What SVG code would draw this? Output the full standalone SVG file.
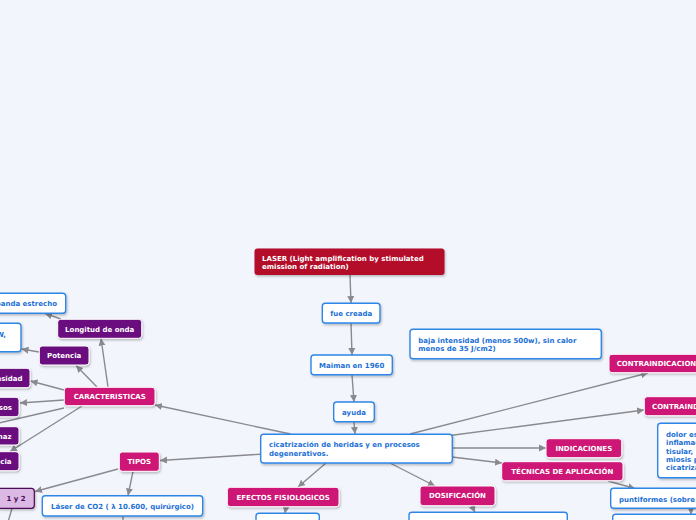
<svg xmlns="http://www.w3.org/2000/svg" width="696" height="520" viewBox="0 0 696 520">
<style>
text{font-family:"DejaVu Sans",Verdana,sans-serif;font-weight:bold;font-size:7px}
.w{fill:#fff}
.b{fill:#1b6fd6}
.d{fill:#4b0b57}
.mid{text-anchor:middle}
.end{text-anchor:end}
.red{fill:#b30b2c}
.mag{fill:#cd1676;stroke:#fff;stroke-width:1}
.pur{fill:#6a0a7e;stroke:#fff;stroke-width:1}
.box{fill:#fff;stroke:#2e86e6;stroke-width:1.4}
.lp{fill:#dcb9e4;stroke:#4b0b57;stroke-width:1.2}
.c line{stroke:#8a8a8e;stroke-width:1.4;fill:none}
.a{marker-end:url(#ah)}
</style>
<defs>
<marker id="ah" markerUnits="userSpaceOnUse" markerWidth="8" markerHeight="8" refX="7" refY="4" orient="auto">
<path d="M0,0.5 L7,4 L0,7.5 Z" fill="#8a8a8e"/>
</marker>
<filter id="sh" x="-10%" y="-20%" width="130%" height="160%">
<feDropShadow dx="1" dy="1.5" stdDeviation="0.8" flood-color="#000" flood-opacity="0.25"/>
</filter>
</defs>
<rect x="0" y="0" width="696" height="520" fill="#f3f5fd"/>
<g class="c">
<line class="a" x1="350" y1="275" x2="351" y2="303"/>
<line class="a" x1="351" y1="323" x2="352" y2="355"/>
<line class="a" x1="352" y1="375" x2="354" y2="402"/>
<line class="a" x1="354" y1="422" x2="355" y2="434"/>
<line class="a" x1="410" y1="434" x2="648" y2="373"/>
<line class="a" x1="452" y1="435.3" x2="644" y2="410"/>
<line class="a" x1="452" y1="448" x2="546" y2="448"/>
<line class="a" x1="452" y1="457" x2="502" y2="463"/>
<line class="a" x1="608" y1="481" x2="635" y2="488.5"/>
<line class="a" x1="691" y1="508" x2="691" y2="514.5"/>
<line class="a" x1="390" y1="463" x2="435" y2="486"/>
<line class="a" x1="472" y1="506" x2="475" y2="512.5"/>
<line class="a" x1="326" y1="463" x2="298" y2="487"/>
<line class="a" x1="286" y1="507" x2="285" y2="513.5"/>
<line class="a" x1="260" y1="454.2" x2="160" y2="460.5"/>
<line class="a" x1="118" y1="469" x2="35" y2="491.5"/>
<line class="a" x1="133" y1="471.5" x2="128" y2="495.5"/>
<line x1="12" y1="508.5" x2="8" y2="522"/>
<line x1="123" y1="516" x2="123" y2="522"/>
<line class="a" x1="290.6" y1="434" x2="155" y2="405"/>
<line class="a" x1="108" y1="387" x2="101" y2="338.5"/>
<line class="a" x1="61" y1="319" x2="45" y2="313.5"/>
<line class="a" x1="97" y1="387" x2="76" y2="365.5"/>
<line class="a" x1="39" y1="352" x2="21.5" y2="349"/>
<line class="a" x1="64" y1="390" x2="30.5" y2="381"/>
<line class="a" x1="64" y1="400" x2="20" y2="403"/>
<line x1="64" y1="408" x2="-5" y2="424"/>
<line class="a" x1="82" y1="406" x2="10" y2="451.5"/>
</g>
<g id="laser"><rect class="red" x="254.5" y="248.5" width="190" height="26.5" rx="3" filter="url(#sh)"/>
<text class="w" x="262" y="261">LASER (Light amplification by stimulated</text>
<text class="w" x="262" y="269">emission of radiation)</text></g>
<g id="fue"><rect class="box" x="322.3" y="303.3" width="57.7" height="19.7" rx="3" filter="url(#sh)"/>
<text class="b mid" x="351.2" y="315.8">fue creada</text></g>
<g id="maiman"><rect class="box" x="311" y="355" width="81.3" height="19.7" rx="3" filter="url(#sh)"/>
<text class="b mid" x="351.7" y="367.5">Maiman en 1960</text></g>
<g id="ayuda"><rect class="box" x="333.7" y="402" width="40.6" height="19.7" rx="3" filter="url(#sh)"/>
<text class="b mid" x="354" y="414.5">ayuda</text></g>
<g id="central"><rect class="box" x="260.7" y="434.3" width="191.6" height="28.7" rx="3" filter="url(#sh)"/>
<text class="b" x="269" y="447.2">cicatrización de heridas y en procesos</text>
<text class="b" x="269" y="456.2">degenerativos.</text></g>
<g id="baja"><rect class="box" x="410" y="329.3" width="191.3" height="29.4" rx="3" filter="url(#sh)"/>
<text class="b" x="418.3" y="343.2">baja intensidad (menos 500w), sin calor</text>
<text class="b" x="418.3" y="351.2">menos de 35 J/cm2)</text></g>
<g id="contra1"><rect class="mag" x="609" y="354.3" width="100" height="18.4" rx="3" filter="url(#sh)"/>
<text class="w" x="616.7" y="366">CONTRAINDICACIONES</text></g>
<g id="contra2"><rect class="mag" x="644.3" y="396.7" width="100" height="19" rx="3" filter="url(#sh)"/>
<text class="w" x="652" y="408.7">CONTRAINDICACIONES</text></g>
<g id="indicaciones"><rect class="mag" x="546" y="438.7" width="75.7" height="19" rx="3" filter="url(#sh)"/>
<text class="w mid" x="583.8" y="450.7">INDICACIONES</text></g>
<g id="dolor"><rect class="box" x="657.7" y="423.3" width="60" height="54.4" rx="3" filter="url(#sh)"/>
<text class="b" x="666" y="437">dolor espasmos,</text>
<text class="b" x="666" y="445.3">inflamación,</text>
<text class="b" x="666" y="453.6">tisular,</text>
<text class="b" x="666" y="461.9">miosis por</text>
<text class="b" x="666" y="470.2">cicatrización</text></g>
<g id="tecnicas"><rect class="mag" x="501.7" y="461.7" width="121.3" height="19" rx="3" filter="url(#sh)"/>
<text class="w mid" x="562.3" y="473.7">TÉCNICAS DE APLICACIÓN</text></g>
<g id="puntiformes"><rect class="box" x="610.7" y="488.3" width="100" height="20" rx="3" filter="url(#sh)"/>
<text class="b" x="619" y="501.8">puntiformes (sobre</text></g>
<g id="tecn2"><rect class="box" x="612.7" y="514.3" width="100" height="20" rx="3"/></g>
<g id="dosificacion"><rect class="mag" x="420" y="486" width="75" height="19.7" rx="3" filter="url(#sh)"/>
<text class="w mid" x="457.5" y="498.3">DOSIFICACIÓN</text></g>
<g id="dosif2"><rect class="box" x="409" y="512.3" width="158.3" height="20" rx="3"/></g>
<g id="efectos"><rect class="mag" x="227.3" y="487.3" width="111.7" height="19.4" rx="3" filter="url(#sh)"/>
<text class="w mid" x="283.2" y="499.5">EFECTOS FISIOLOGICOS</text></g>
<g id="efectos2"><rect class="box" x="256" y="513.3" width="63.3" height="20" rx="3"/></g>
<g id="tipos"><rect class="mag" x="119.3" y="452" width="40" height="19.3" rx="3" filter="url(#sh)"/>
<text class="w mid" x="139.3" y="464.2">TIPOS</text></g>
<g id="uno"><rect class="lp" x="-3" y="488.3" width="37.3" height="20" rx="3" filter="url(#sh)"/>
<text class="d mid" x="16" y="501.2">1 y 2</text></g>
<g id="co2"><rect class="box" x="42.3" y="495.7" width="160.4" height="20.3" rx="3" filter="url(#sh)"/>
<text class="b mid" x="122.5" y="508.5">Láser de CO2 ( λ 10.600, quirúrgico)</text></g>
<g id="caract"><rect class="mag" x="64.3" y="387.3" width="90.7" height="18.4" rx="3" filter="url(#sh)"/>
<text class="w mid" x="109.7" y="399">CARACTERISTICAS</text></g>
<g id="longitud"><rect class="pur" x="57.7" y="319.3" width="84" height="19" rx="3" filter="url(#sh)"/>
<text class="w mid" x="99.7" y="331.5">Longitud de onda</text></g>
<g id="banda"><rect class="box" x="-10" y="293.3" width="75.7" height="20" rx="3" filter="url(#sh)"/>
<text class="b end" x="57" y="305.8">banda estrecho</text></g>
<g id="wbox"><rect class="box" x="-10" y="323.3" width="31" height="28.4" rx="3" filter="url(#sh)"/>
<text class="b end" x="6" y="336.8">W,</text></g>
<g id="potencia"><rect class="pur" x="39.3" y="346" width="49.7" height="19" rx="3" filter="url(#sh)"/>
<text class="w mid" x="64.2" y="358">Potencia</text></g>
<g id="intensidad"><rect class="pur" x="-10" y="368.3" width="40" height="19.4" rx="3" filter="url(#sh)"/>
<text class="w end" x="22.5" y="380.5">Intensidad</text></g>
<g id="pulsos"><rect class="pur" x="-10" y="397.3" width="29" height="19.4" rx="3" filter="url(#sh)"/>
<text class="w end" x="12" y="409.5">Pulsos</text></g>
<g id="haz"><rect class="pur" x="-10" y="426.7" width="29" height="18.3" rx="3" filter="url(#sh)"/>
<text class="w end" x="11.5" y="438.5">haz</text></g>
<g id="frecuencia"><rect class="pur" x="-10" y="451.7" width="29" height="19" rx="3" filter="url(#sh)"/>
<text class="w end" x="11.5" y="464">Frecuencia</text></g>
</svg>
